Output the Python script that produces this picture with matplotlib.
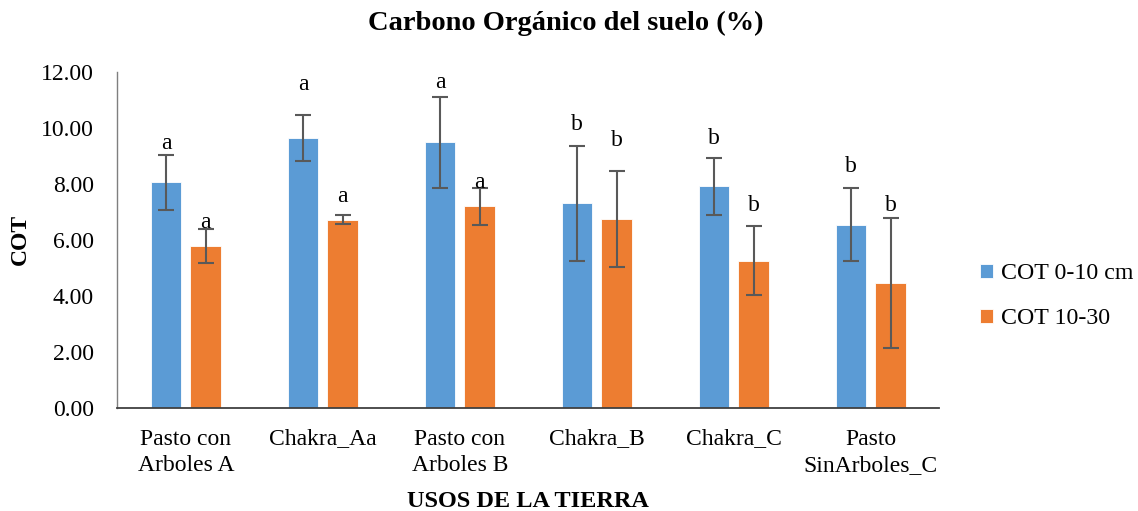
import matplotlib
matplotlib.use("Agg")
import matplotlib.pyplot as plt
import numpy as np

# Soil organic carbon by land use
categories = ["Pasto con\nArboles A", "Chakra_Aa", "Pasto con\nArboles B",
              "Chakra_B", "Chakra_C", "Pasto\nSinArboles_C"]
cot_0_10 = [8.05, 9.64, 9.49, 7.30, 7.91, 6.54]
cot_0_10_err = [0.97, 0.81, 1.62, 2.05, 1.02, 1.30]
cot_10_30 = [5.78, 6.72, 7.20, 6.74, 5.26, 4.45]
cot_10_30_err = [0.60, 0.16, 0.66, 1.72, 1.22, 2.33]
letters_0_10 = ["a", "a", "a", "b", "b", "b"]
letters_10_30 = ["a", "a", "a", "b", "b", "b"]
series_names = ["COT 0-10 cm", "COT 10-30"]
yticks = [0, 2, 4, 6, 8, 10, 12]

# heights at which the significance letters sit
letter_y_0_10 = [9.45, 11.56, 11.61, 10.12, 9.64, 8.61]
letter_y_10_30 = [6.61, 7.54, 8.04, 9.56, 7.21, 7.24]

plt.rcParams["font.family"] = ["Liberation Serif", "DejaVu Serif"]

fig = plt.figure(figsize=(11.38, 5.11), dpi=100)
ax = fig.add_axes([0.1031, 0.2022, 0.7223, 0.6569])

x = np.arange(len(categories))
w = 0.223
off = 0.145
blue = "#5B9BD5"
orange = "#ED7D31"
err_kw = dict(ecolor="#595959", elinewidth=1.5, capsize=5.5, capthick=1.5)

b1 = ax.bar(x - off, cot_0_10, w, color=blue, edgecolor="white", linewidth=0.6,
            yerr=cot_0_10_err, error_kw=err_kw, label=series_names[0])
b2 = ax.bar(x + off, cot_10_30, w, color=orange, edgecolor="white", linewidth=0.6,
            yerr=cot_10_30_err, error_kw=err_kw, label=series_names[1])

for xi, ly, t in zip(x - off, letter_y_0_10, letters_0_10):
    ax.text(xi, ly, t, ha="center", va="center", fontsize=17)
for xi, ly, t in zip(x + off, letter_y_10_30, letters_10_30):
    ax.text(xi, ly, t, ha="center", va="center", fontsize=17)

ax.set_xlim(-0.5, len(categories) - 0.5)
ax.set_ylim(0, 12)
ax.set_yticks(yticks)
ax.set_yticklabels([f"{v:.2f}" for v in yticks], fontsize=17)
ax.set_xticks(x)
ax.set_xticklabels(categories, fontsize=17, linespacing=1.33)
ax.tick_params(axis="x", length=0, pad=15)
ax.tick_params(axis="y", length=0, pad=17)

for s in ["top", "right"]:
    ax.spines[s].set_visible(False)
ax.spines["left"].set_color("#7f7f7f")
ax.spines["bottom"].set_color("#404040")
ax.spines["left"].set_linewidth(1.0)
ax.spines["bottom"].set_linewidth(1.3)

ax.set_ylabel("COT", fontsize=17, fontweight="bold", labelpad=7)
ax.set_xlabel("USOS DE LA TIERRA", fontsize=17.5, fontweight="bold", labelpad=11)
fig.text(0.497, 0.955, "Carbono Orgánico del suelo (%)", ha="center", va="center",
         fontsize=20.5, fontweight="bold")

fig.legend(handles=[b1, b2], labels=series_names, loc="center left",
           bbox_to_anchor=(0.8425, 0.42), frameon=False, fontsize=17.2,
           handlelength=0.55, handleheight=0.55, handletextpad=0.3,
           labelspacing=1.0)

fig.savefig("out.png", dpi=100)
